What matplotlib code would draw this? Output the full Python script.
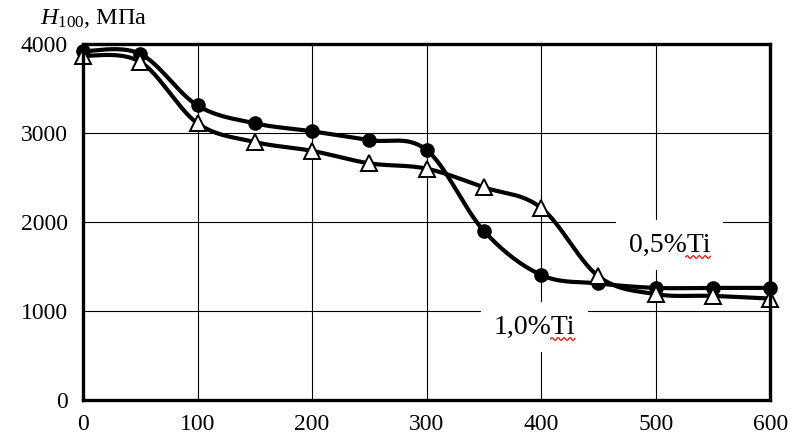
import numpy as np
import matplotlib
matplotlib.use("Agg")
import matplotlib.pyplot as plt
from matplotlib.lines import Line2D

x = [0, 50, 100, 150, 200, 250, 300, 350, 400, 450, 500, 550, 600]
h_circle = [3920, 3890, 3310, 3110, 3020, 2920, 2810, 1900, 1405, 1310, 1260, 1260, 1260]
h_triangle = [3870, 3800, 3110, 2900, 2800, 2660, 2600, 2390, 2160, 1390, 1190, 1170, 1140]
x_ticks = [0, 100, 200, 300, 400, 500, 600]
y_ticks = [0, 1000, 2000, 3000, 4000]
label_05 = "0,5%Ti"
label_10 = "1,0%Ti"

plt.rcParams['font.family'] = ['Liberation Serif', 'DejaVu Serif']
plt.rcParams['mathtext.fontset'] = 'custom'
plt.rcParams['mathtext.rm'] = 'Liberation Serif'
plt.rcParams['mathtext.it'] = 'Liberation Serif:italic'


def smooth(xs, ys, n=30):
    # Excel-like smoothed line (cubic Bezier through points)
    xs = np.asarray(xs, float); ys = np.asarray(ys, float)
    P = np.column_stack([xs, ys])
    out = []
    for i in range(len(P) - 1):
        p0 = P[i - 1] if i > 0 else P[i]
        p1 = P[i]; p2 = P[i + 1]
        p3 = P[i + 2] if i + 2 < len(P) else P[i + 1]
        c1 = p1 + (p2 - p0) / 6.0
        c2 = p2 - (p3 - p1) / 6.0
        t = np.linspace(0, 1, n)[:, None]
        seg = ((1 - t) ** 3) * p1 + 3 * ((1 - t) ** 2) * t * c1 + 3 * (1 - t) * t ** 2 * c2 + t ** 3 * p2
        out.append(seg if i == 0 else seg[1:])
    s = np.vstack(out)
    return s[:, 0], s[:, 1]


fig = plt.figure(figsize=(7.9, 4.41), dpi=100)
ax = fig.add_axes([0.105, 0.093, 0.870, 0.807])

sx, sy = smooth(x, h_circle)
ax.plot(sx, sy, color='black', lw=3.0, zorder=3, solid_capstyle='round')
ax.plot(x, h_circle, 'o', color='black', ms=9.5, zorder=4, clip_on=False)

tx, ty = smooth(x, h_triangle)
ax.plot(tx, ty, color='black', lw=3.0, zorder=5, solid_capstyle='round')
ax.plot(x, h_triangle, '^', mfc='white', mec='black', mew=1.4, ms=11.5, zorder=6, clip_on=False)

ax.set_xlim(0, 600)
ax.set_ylim(0, 4000)
ax.set_xticks(x_ticks)
ax.set_yticks(y_ticks)
ax.grid(True, color='black', lw=0.8, zorder=1)
ax.tick_params(length=0, labelsize=17, pad=11)
ax.tick_params(axis='x', pad=10)
for sp in ax.spines.values():
    sp.set_linewidth(2.4)
    sp.set_zorder(7)

fig.text(0.05, 0.957, r"$\mathit{H}_{\mathrm{100}}$, МПа", fontsize=17.5, ha='left', va='center')

t1 = ax.text(512, 1742, label_05, fontsize=20, ha='center', va='center', zorder=2,
             bbox=dict(facecolor='white', edgecolor='none', boxstyle='square,pad=0.45'))
t2 = ax.text(394, 820, label_10, fontsize=20, ha='center', va='center', zorder=2,
             bbox=dict(facecolor='white', edgecolor='none', boxstyle='square,pad=0.45'))

fig.canvas.draw()
renderer = fig.canvas.get_renderer()


def wavy(txt):
    bb = txt.get_window_extent(renderer)
    x0 = bb.x0 + 0.70 * bb.width
    x1 = bb.x1
    yb = bb.y0 + 0.5
    xs = np.linspace(x0, x1, 60)
    ys = yb + 1.3 * np.sin((xs - x0) / 3.0 * np.pi)
    fig.add_artist(Line2D(xs, ys, color='#d01010', lw=0.9, transform=None, zorder=8))

wavy(t1)
wavy(t2)

fig.savefig("out.png", dpi=100)
